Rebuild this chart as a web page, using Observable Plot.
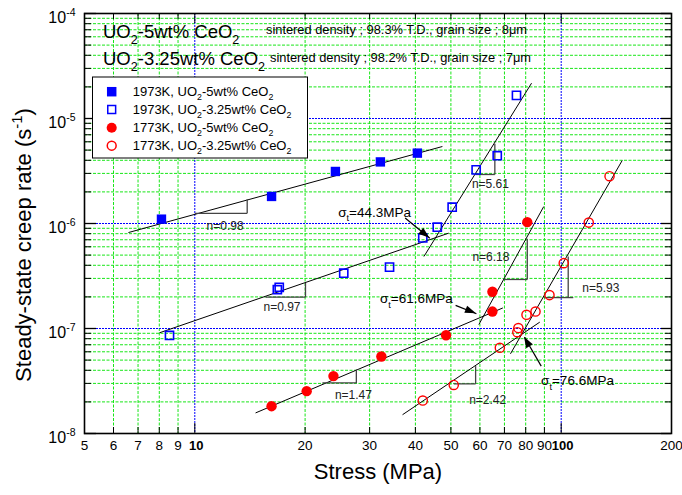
<!DOCTYPE html>
<html><head><meta charset="utf-8">
<script src="https://cdn.jsdelivr.net/npm/d3@7"></script>
<script src="https://cdn.jsdelivr.net/npm/@observablehq/plot@0.6"></script>
<style>
body{margin:0;background:#fff;}
#chart svg{font-family:"Liberation Sans",Arial,sans-serif;background:#fff;}
</style>
</head><body><div id="chart"></div>
<script>
// ---------- data (stress in MPa, creep rate in 1/s) ----------
const sq5S   = [8.11, 16.2, 24.2, 32.1, 40.5];
const sq5R   = [1.10e-6, 1.81e-6, 3.13e-6, 3.86e-6, 4.68e-6];
const sq325S = [8.53, 16.8, 17.0, 25.5, 34.0, 41.9, 45.9, 50.4, 58.6, 66.9, 75.5];
const sq325R = [8.58e-8, 2.34e-7, 2.47e-7, 3.36e-7, 3.84e-7, 7.28e-7, 9.22e-7, 1.43e-6, 3.24e-6, 4.42e-6, 1.66e-5];
const c5S    = [16.2, 20.2, 23.9, 32.3, 48.5, 64.9, 64.9, 80.8];
const c5R    = [1.82e-8, 2.53e-8, 3.52e-8, 5.41e-8, 8.63e-8, 1.45e-7, 2.24e-7, 1.03e-6];
const c325S  = [41.9, 50.9, 68.0, 75.9, 76.4, 80.4, 85.1, 92.9, 101.6, 118.9, 135.5];
const c325R  = [2.06e-8, 2.90e-8, 6.55e-8, 9.22e-8, 1.01e-7, 1.35e-7, 1.45e-7, 2.08e-7, 4.19e-7, 1.02e-6, 2.82e-6];

// fitted lines (end points)
const fitS1 = [6.59, 8.01, 42.2, 14.65, 59.6, 36.9, 72.7];
const fitR1 = [8.2e-7, 9.1e-8, 4.85e-7, 1.57e-8, 1.09e-7, 1.51e-8, 5.74e-8];
const fitS2 = [47.4, 49.3, 83.0, 69.3, 89.6, 87.4, 146.7];
const fitR2 = [5.41e-6, 8.09e-7, 2.17e-5, 1.57e-7, 1.45e-6, 1.15e-7, 3.98e-6];

// slope triangles
const triLabel = ["n=0.98", "n=0.97", "n=5.61", "n=1.47", "n=6.18", "n=2.42", "n=5.93"];
const triS1  = [10.0, 15.6, 58.3, 22.3, 69.7, 50.9, 89.9];
const triS2  = [13.9, 20.05, 65.9, 27.6, 80.8, 58.4, 104.5];
const triH2  = [13.9, 20.05, 65.9, 27.6, 80.8, 58.4, 107.9];
const triRb  = [1.25e-6, 1.99e-7, 2.93e-6, 3.03e-8, 2.93e-7, 2.97e-8, 1.97e-7];
const triRt  = [1.70e-6, 2.72e-7, 5.74e-6, 4.07e-8, 7.15e-7, 4.38e-8, 4.85e-7];
const triLabS = [12.1, 17.3, 64.1, 27.1, 64.3, 63.0, 128.3];
const triLabR = [9.36e-7, 1.60e-7, 2.35e-6, 2.34e-8, 4.78e-7, 2.06e-8, 2.42e-7];

// transition stresses
const sigVal   = ["44.3", "61.6", "76.6"];
const sigTextS = [24.7, 32.1, 88.4];
const sigTextR = [1.27e-6, 1.89e-7, 3.13e-8];
const arrS1 = [37.5, 51.5, 88.2];
const arrR1 = [1.13e-6, 1.66e-7, 4.38e-8];
const arrS2 = [43.8, 58.7, 79.4];
const arrR2 = [7.24e-7, 1.38e-7, 8.26e-8];

// axes
const xTicks     = [5, 6, 7, 8, 9, 10, 20, 30, 40, 50, 60, 70, 80, 90, 100, 200];
const xBoldTicks = [10, 100];
const xMinor     = [6, 7, 8, 9, 20, 30, 40, 50, 60, 70, 80, 90];
const yDecades   = [1e-8, 1e-7, 1e-6, 1e-5, 1e-4];
const yExp       = ["-8", "-7", "-6", "-5", "-4"];
const yMinor = yDecades.slice(0, 4).flatMap(d => [2,3,4,5,6,7,8,9].map(k => k * d));

// ---------- layout ----------
const W = 682, H = 495, mL = 84, mR = 11, mT = 13, mB = 62;
const innerW = W - mL - mR, innerH = H - mT - mB;
const GREEN = "#18e618", BLUE = "#0000ff", RED = "#ff0000";
const idx = n => d3.range(n);

const plot = Plot.plot({
  width: W, height: H,
  marginLeft: mL, marginRight: mR, marginTop: mT, marginBottom: mB,
  style: {fontFamily: '"Liberation Sans", Arial, sans-serif', background: "#fff"},
  x: {type: "log", domain: [5, 200], axis: null},
  y: {type: "log", domain: [1e-8, 1e-4]},
  marks: [
    // grid
    Plot.ruleX(xMinor, {stroke: GREEN, strokeWidth: 1, strokeDasharray: "3,1.5"}),
    Plot.ruleY(yMinor, {stroke: GREEN, strokeWidth: 1, strokeDasharray: "3,1.5"}),
    Plot.ruleX(xBoldTicks, {stroke: BLUE, strokeWidth: 1, strokeDasharray: "2,1"}),
    Plot.ruleY(yDecades.slice(1, 4), {stroke: BLUE, strokeWidth: 1, strokeDasharray: "2,1"}),
    // inward ticks
    Plot.ruleX(xMinor, {insetTop: innerH - 6, stroke: "black"}),
    Plot.ruleX(xMinor, {insetBottom: innerH - 6, stroke: "black"}),
    Plot.ruleX(xBoldTicks, {insetTop: innerH - 10, stroke: "black"}),
    Plot.ruleX(xBoldTicks, {insetBottom: innerH - 10, stroke: "black"}),
    Plot.ruleY(yDecades, {insetRight: innerW - 12, stroke: "black", strokeWidth: 1.3}),
    Plot.ruleY(yMinor, {insetRight: innerW - 7, stroke: "black"}),
    Plot.ruleY(yDecades, {insetLeft: innerW - 10, stroke: "black", strokeWidth: 1.3}),
    Plot.ruleY(yMinor, {insetLeft: innerW - 6, stroke: "black"}),
    Plot.frame({stroke: "black", strokeWidth: 1.6}),
    // x tick labels
    Plot.text(xTicks.filter(d => !xBoldTicks.includes(d)), {x: d => d, text: d => String(d), frameAnchor: "bottom", dy: 16, fontSize: 13.5, fill: "black"}),
    Plot.text(xBoldTicks, {x: d => d, text: d => String(d), frameAnchor: "bottom", dy: 16, dx: 1.5, fontSize: 13, fontWeight: "bold", fill: "black"}),
    // y tick labels
    Plot.axisY(yDecades, {tickSize: 0, tickPadding: 9, fontSize: 16, dy: 4, tickFormat: () => "10", label: null, fill: "black"}),
    // fitted lines
    Plot.link(idx(fitS1.length), {x1: i => fitS1[i], y1: i => fitR1[i], x2: i => fitS2[i], y2: i => fitR2[i], stroke: "black", strokeWidth: 1}),
    // slope triangles
    Plot.link(idx(triS1.length), {x1: i => triS1[i], y1: i => triRb[i], x2: i => triH2[i], y2: i => triRb[i], stroke: "#444", strokeWidth: 1.3}),
    Plot.link(idx(triS1.length), {x1: i => triS2[i], y1: i => triRb[i], x2: i => triS2[i], y2: i => triRt[i], stroke: "#444", strokeWidth: 1.3}),
    Plot.text(idx(triLabel.length), {x: i => triLabS[i], y: i => triLabR[i], text: i => triLabel[i], fontSize: 12, fill: "#222"}),
    // arrows (shafts)
    Plot.link(idx(arrS1.length), {x1: i => arrS1[i], y1: i => arrR1[i], x2: i => arrS2[i], y2: i => arrR2[i], stroke: "black", strokeWidth: 1.2}),
    // data points
    Plot.dot(idx(sq5S.length), {x: i => sq5S[i], y: i => sq5R[i], symbol: "square", r: 5.3, fill: BLUE}),
    Plot.dot(idx(sq325S.length), {x: i => sq325S[i], y: i => sq325R[i], symbol: "square", r: 4.6, fill: "none", stroke: BLUE, strokeWidth: 1.6}),
    Plot.dot(idx(c5S.length), {x: i => c5S[i], y: i => c5R[i], symbol: "circle", r: 5.2, fill: RED}),
    Plot.dot(idx(c325S.length), {x: i => c325S[i], y: i => c325R[i], symbol: "circle", r: 4.6, fill: "none", stroke: RED, strokeWidth: 1.4})
  ]
});

document.getElementById("chart").appendChild(plot);

// ---------- rich text helpers ----------
const svg = d3.select(plot);
const xs = plot.scale("x"), ys = plot.scale("y");
function rich(x, y, str, size, opts = {}) {
  const t = svg.append("text").attr("x", x).attr("y", y)
    .attr("font-size", size).attr("text-anchor", opts.anchor || "start")
    .attr("fill", opts.fill || "black");
  if (opts.rotate) t.attr("transform", `rotate(-90,${x},${y})`);
  if (opts.length) t.attr("textLength", opts.length).attr("lengthAdjust", "spacingAndGlyphs");
  const parts = str.split(/(_\{[^}]*\}|\^\{[^}]*\})/);
  let cur = 0;
  for (const p of parts) {
    if (!p) continue;
    let shift = 0, sz = null, txt = p;
    if (p.startsWith("_{")) { shift = 0.32 * size; sz = 0.68 * size; txt = p.slice(2, -1); }
    else if (p.startsWith("^{")) { shift = -0.42 * size; sz = 0.68 * size; txt = p.slice(2, -1); }
    const ts = t.append("tspan").text(txt).attr("dy", shift - cur);
    if (sz) ts.attr("font-size", sz);
    cur = shift;
  }
  return t;
}

// y tick superscripts
svg.selectAll('g[aria-label="y-axis tick label"] text').each(function(d, i) {
  d3.select(this).append("tspan").attr("dy", -7).attr("font-size", 10.5).text(yExp[i]);
});

// axis titles
rich(31, 245, "Steady-state creep rate (s^{-1})", 22, {anchor: "middle", rotate: true});
rich(378, 479, "Stress (MPa)", 22, {anchor: "middle"});

// header texts
rich(103, 38, "UO_{2}-5wt% CeO_{2}", 18.5);
rich(103, 65, "UO_{2}-3.25wt% CeO_{2}", 18.5);
rich(266, 34, "sintered density ; 98.3% T.D., grain size ; 8μm", 13, {length: 261});
rich(270, 62, "sintered density ; 98.2% T.D., grain size ; 7μm", 13, {length: 261});

// transition stress labels
sigVal.forEach((v, i) => rich(xs.apply(sigTextS[i]), ys.apply(sigTextR[i]) + 4.5, "σ_{t}=" + v + "MPa", 13.5));

// arrow heads
arrS1.forEach((s, i) => {
  const x1 = xs.apply(s), y1 = ys.apply(arrR1[i]), x2 = xs.apply(arrS2[i]), y2 = ys.apply(arrR2[i]);
  const L = Math.hypot(x2 - x1, y2 - y1), ux = (x2 - x1) / L, uy = (y2 - y1) / L;
  const hl = 11, hw = 3.8, bx = x2 - ux * hl, by = y2 - uy * hl;
  svg.append("path").attr("fill", "black")
    .attr("d", `M${x2},${y2}L${bx - uy * hw},${by + ux * hw}L${bx + uy * hw},${by - ux * hw}Z`);
});

// legend
const lg = svg.append("g");
lg.append("rect").attr("x", 92.5).attr("y", 77).attr("width", 215).attr("height", 81)
  .attr("fill", "white").attr("stroke", "black").attr("stroke-width", 1);
const legItems = [
  {sym: d3.symbolSquare, size: 90, fill: BLUE, stroke: "none", label: "1973K, UO_{2}-5wt% CeO_{2}"},
  {sym: d3.symbolSquare, size: 62, fill: "white", stroke: BLUE, label: "1973K, UO_{2}-3.25wt% CeO_{2}"},
  {sym: d3.symbolCircle, size: 80, fill: RED, stroke: "none", label: "1773K, UO_{2}-5wt% CeO_{2}"},
  {sym: d3.symbolCircle, size: 62, fill: "white", stroke: RED, label: "1773K, UO_{2}-3.25wt% CeO_{2}"}
];
const rowsY = [91.7, 109.5, 127.7, 145.7];
legItems.forEach((it, i) => {
  lg.append("path").attr("d", d3.symbol(it.sym, it.size)())
    .attr("transform", `translate(111.7,${rowsY[i]})`)
    .attr("fill", it.fill).attr("stroke", it.stroke).attr("stroke-width", 1.5);
  rich(132.7, rowsY[i] + 4.5, it.label, 13);
});
</script>
</body></html>
